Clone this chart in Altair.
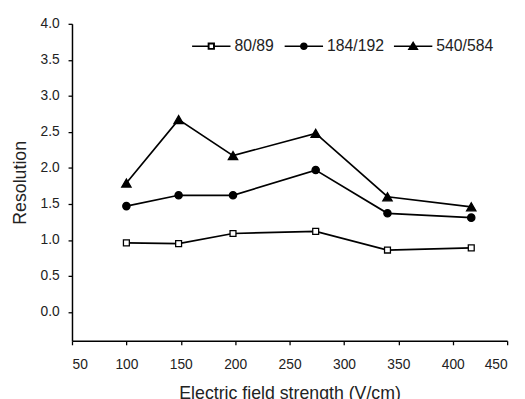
import altair as alt
import pandas as pd

field = [100, 148, 198, 274, 340, 417]
res_80 = [0.96, 0.95, 1.09, 1.12, 0.86, 0.89]
res_184 = [1.47, 1.62, 1.62, 1.97, 1.37, 1.31]
res_540 = [1.79, 2.67, 2.17, 2.48, 1.60, 1.46]
series_names = ["80/89", "184/192", "540/584"]

x_major = [50, 100, 150, 200, 250, 300, 350, 400, 450]
y_major = [0.0, 0.5, 1.0, 1.5, 2.0, 2.5, 3.0, 3.5, 4.0]

rows = []
for name, vals in zip(series_names, [res_80, res_184, res_540]):
    for f, v in zip(field, vals):
        rows.append({"field": f, "value": v, "series": name})
df = pd.DataFrame(rows)

W, H = 442, 322
FONT = "Liberation Sans"
X_MIN, X_MAX = 50, 450
Y_MIN, Y_MAX = -0.4, 4.0
xscale = alt.Scale(domain=[X_MIN, X_MAX], nice=False, zero=False)
yscale = alt.Scale(domain=[Y_MIN, Y_MAX], nice=False, zero=False)

main_x = alt.Axis(values=x_major, format="d", ticks=True, tickSize=4, tickColor="black", tickWidth=1.3,
                  grid=False, domainColor="black", domainWidth=1.5, labelFontSize=14, labelColor="#222",
                  labelPadding=13, title="Electric field strength (V/cm)", titleFontSize=18,
                  titleFontWeight="normal", titleColor="#222", titlePadding=14, labelFont=FONT, titleFont=FONT)
main_y = alt.Axis(values=y_major, format=".1f", ticks=True, tickSize=4, tickColor="black", tickWidth=1.3,
                  grid=False, domainColor="black", domainWidth=1.5, labelFontSize=14, labelColor="#222",
                  labelPadding=9, title="Resolution", titleFontSize=18,
                  titleFontWeight="normal", titleColor="#222", titlePadding=11, labelFont=FONT, titleFont=FONT)

lines = alt.Chart(df).mark_line(color="black", strokeWidth=1.7).encode(
    x=alt.X("field:Q", scale=xscale, axis=main_x),
    y=alt.Y("value:Q", scale=yscale, axis=main_y),
    detail="series:N",
)

def point_layer(name, shape, fill, size):
    return alt.Chart(df).transform_filter(alt.datum.series == name).mark_point(
        shape=shape, filled=True, fill=fill, stroke="black", strokeWidth=1.3, opacity=1, size=size
    ).encode(
        x=alt.X("field:Q", scale=xscale),
        y=alt.Y("value:Q", scale=yscale),
    )

# legend symbols: line - marker - line (line segments drawn as thin filled bars)
sq = ("M-1,-0.035H-0.19V0.035H-1Z M0.19,-0.035H1V0.035H0.19Z "
      "M-0.19,-0.19H0.19V0.19H-0.19Z M-0.09,-0.09V0.09H0.09V-0.09Z")
ci = ("M-1,-0.035H1V0.035H-1Z "
      "M-0.2,0A0.2,0.2,0,1,1,0.2,0A0.2,0.2,0,1,1,-0.2,0Z")
tr = ("M-1,-0.035H1V0.035H-1Z "
      "M0,-0.27L0.29,0.2L-0.29,0.2Z")

legend_layer = alt.Chart(df).transform_filter("datum.field < 0").mark_point(
    filled=True, fill="black", opacity=1, size=1521
).encode(
    x=alt.X("field:Q", scale=xscale),
    y=alt.Y("value:Q", scale=yscale),
    shape=alt.Shape("series:N", scale=alt.Scale(domain=series_names, range=[sq, ci, tr]),
                    legend=alt.Legend(title=None, orient="none", legendX=121, legendY=2, direction="horizontal",
                                      symbolSize=1521, symbolFillColor="black",
                                      symbolOpacity=1, labelFontSize=16, labelFont=FONT,
                                      labelColor="#222", labelOffset=3, columnPadding=7, padding=0)),
)

chart = alt.layer(
    lines,
    point_layer("80/89", "square", "white", 36),
    point_layer("184/192", "circle", "black", 55),
    point_layer("540/584", "triangle-up", "black", 90),
    legend_layer,
).properties(
    width=W, height=H,
    autosize=alt.AutoSizeParams(type="none"),
    padding={"left": 65, "top": 13, "right": 10, "bottom": 56},
).configure_view(stroke=None)

chart.save("out.html", embed_options={"renderer": "svg", "actions": False})
